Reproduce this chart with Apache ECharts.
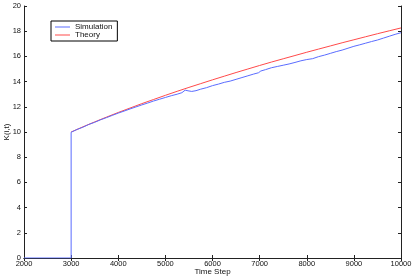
<!DOCTYPE html>
<html>
<head>
<meta charset="utf-8">
<script src="https://cdn.jsdelivr.net/npm/echarts@6/dist/echarts.min.js"></script>
<style>html,body{margin:0;padding:0;background:#fff}#c{width:415px;height:277px}</style>
</head>
<body>
<div id="c"></div>
<script>
var xTicks = [2000, 3000, 4000, 5000, 6000, 7000, 8000, 9000, 10000];
var yTicks = [0, 2, 4, 6, 8, 10, 12, 14, 16, 18, 20];
var simX = [2000, 3000, 3000, 3125, 3250, 3375, 3500, 3625, 3750, 3875, 4000, 4125, 4250, 4375, 4500, 4625, 4750, 4875, 5000, 5125, 5250, 5350, 5420, 5480, 5560, 5650, 5750, 5875, 6000, 6125, 6250, 6375, 6500, 6625, 6750, 6875, 6975, 7025, 7125, 7250, 7375, 7500, 7625, 7750, 7875, 8000, 8125, 8250, 8375, 8500, 8625, 8750, 8875, 9000, 9125, 9250, 9375, 9500, 9625, 9750, 9875, 10000];
var simY = [0, 0, 9.98, 10.2, 10.38, 10.6, 10.77, 10.97, 11.14, 11.32, 11.5, 11.66, 11.83, 11.99, 12.15, 12.3, 12.46, 12.6, 12.74, 12.88, 13.0, 13.12, 13.32, 13.27, 13.22, 13.28, 13.4, 13.52, 13.68, 13.8, 13.94, 14.04, 14.18, 14.32, 14.46, 14.6, 14.7, 14.84, 14.95, 15.1, 15.2, 15.3, 15.4, 15.52, 15.65, 15.75, 15.82, 15.98, 16.1, 16.24, 16.38, 16.5, 16.65, 16.8, 16.92, 17.05, 17.18, 17.3, 17.45, 17.6, 17.75, 17.88];
var theoryX = [3000, 3250, 3500, 3750, 4000, 4250, 4500, 4750, 5000, 5250, 5500, 5750, 6000, 6250, 6500, 6750, 7000, 7250, 7500, 7750, 8000, 8250, 8500, 8750, 9000, 9250, 9500, 9750, 10000];
var theoryY = [10.00, 10.41, 10.80, 11.18, 11.55, 11.90, 12.25, 12.58, 12.91, 13.23, 13.54, 13.84, 14.14, 14.43, 14.72, 15.00, 15.28, 15.55, 15.81, 16.07, 16.33, 16.58, 16.83, 17.08, 17.32, 17.56, 17.80, 18.03, 18.26];

var simData = simX.map(function (x, i) { return [x, simY[i]]; });
var theoryData = theoryX.map(function (x, i) { return [x, theoryY[i]]; });

var font = 'Liberation Sans, Arial, Helvetica, sans-serif';
var chart = echarts.init(document.getElementById('c'), null, {renderer: 'canvas'});
var axisLine = {show: true, lineStyle: {color: '#222', width: 1}};
var tick = {show: true, inside: true, length: 3, lineStyle: {color: '#222'}};
chart.setOption({
  animation: false,
  backgroundColor: '#fff',
  grid: {left: 24, right: 14, top: 6, bottom: 19, containLabel: false, outerBoundsMode: 'none'},
  legend: {
    orient: 'vertical', left: 51, top: 21,
    data: ['Simulation', 'Theory'],
    itemWidth: 15, itemHeight: 1, itemGap: 0,
    icon: 'rect',
    borderColor: '#000', borderWidth: 1,
    padding: [2, 5, 2, 4],
    backgroundColor: '#fff',
    textStyle: {fontFamily: font, fontSize: 8, color: '#111', padding: [0, 0, 0, 0], lineHeight: 8}
  },
  xAxis: [{
    type: 'value', min: xTicks[0], max: xTicks[xTicks.length - 1], interval: 1000,
    name: 'Time Step', nameLocation: 'middle', nameGap: 10, nameMoveOverlap: false,
    nameTextStyle: {fontFamily: font, fontSize: 8, color: '#111', lineHeight: 8},
    axisLine: axisLine, axisTick: tick,
    axisLabel: {fontFamily: font, fontSize: 7.5, color: '#111', margin: 2, formatter: function (v) { return String(v); }},
    splitLine: {show: false}
  }, {
    type: 'value', position: 'top', min: xTicks[0], max: xTicks[xTicks.length - 1], interval: 1000,
    axisLine: axisLine, axisTick: tick, axisLabel: {show: false}, splitLine: {show: false}
  }],
  yAxis: [{
    type: 'value', min: yTicks[0], max: yTicks[yTicks.length - 1], interval: 2,
    name: 'K(i,t)', nameLocation: 'middle', nameGap: 13, nameRotate: 90, nameMoveOverlap: false,
    nameTextStyle: {fontFamily: font, fontSize: 8, color: '#111', lineHeight: 8},
    axisLine: axisLine, axisTick: tick,
    axisLabel: {fontFamily: font, fontSize: 7.5, color: '#111', margin: 3},
    splitLine: {show: false}
  }, {
    type: 'value', position: 'right', min: yTicks[0], max: yTicks[yTicks.length - 1], interval: 2,
    axisLine: axisLine, axisTick: tick, axisLabel: {show: false}, splitLine: {show: false}
  }],
  series: [{
    name: 'Simulation', type: 'line', data: simData, showSymbol: false, symbol: 'none',
    lineStyle: {color: '#5a6cff', width: 1}, itemStyle: {color: '#5a6cff'}, z: 3
  }, {
    name: 'Theory', type: 'line', data: theoryData, showSymbol: false, symbol: 'none',
    lineStyle: {color: '#ff4a4a', width: 1}, itemStyle: {color: '#ff4a4a'}, z: 2
  }]
});
</script>
</body>
</html>
